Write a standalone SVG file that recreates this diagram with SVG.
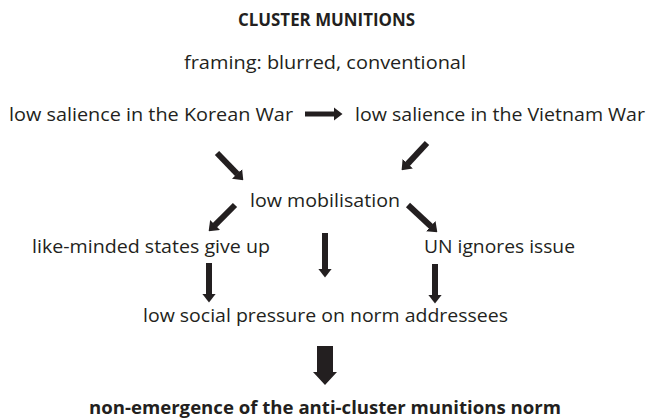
<svg xmlns="http://www.w3.org/2000/svg" width="651" height="420" viewBox="0 0 651 420">
<style>
text{font-family:"Open Sans","Noto Sans","Liberation Sans",sans-serif;font-size:18.5px;fill:#231f20}
.b{font-weight:bold;font-size:17px}
.arr{stroke:#231f20;stroke-width:6;fill:none;marker-end:url(#head)}
.thin{stroke-width:5}
.big{fill:#231f20}
</style>
<defs>
<marker id="head" markerUnits="userSpaceOnUse" markerWidth="9" markerHeight="14" refX="0.5" refY="7" orient="auto">
<path d="M0,0 L9,7 L0,14 z" fill="#231f20"/>
</marker>
</defs>
<rect width="651" height="420" fill="#ffffff"/>
<g id="title"><text class="b" x="238" y="26" textLength="177" lengthAdjust="spacingAndGlyphs">CLUSTER MUNITIONS</text></g>
<g id="framing"><text x="184" y="69" textLength="282" lengthAdjust="spacingAndGlyphs">framing: blurred, conventional</text></g>
<g id="korean"><text x="9" y="121" textLength="284" lengthAdjust="spacingAndGlyphs">low salience in the Korean War</text></g>
<g id="vietnam"><text x="355" y="121" textLength="290" lengthAdjust="spacingAndGlyphs">low salience in the Vietnam War</text></g>
<g id="mobilisation"><text x="250" y="207" textLength="150" lengthAdjust="spacingAndGlyphs">low mobilisation</text></g>
<g id="likeminded"><text x="32" y="253" textLength="238" lengthAdjust="spacingAndGlyphs">like-minded states give up</text></g>
<g id="un"><text x="424" y="253" textLength="151" lengthAdjust="spacingAndGlyphs">UN ignores issue</text></g>
<g id="pressure"><text x="143" y="322" textLength="365" lengthAdjust="spacingAndGlyphs">low social pressure on norm addressees</text></g>
<g id="outcome"><text class="b" x="89" y="414" textLength="472" lengthAdjust="spacingAndGlyphs">non-emergence of the anti-cluster munitions norm</text></g>
<g id="connectors">
<line class="arr thin" x1="305" y1="114" x2="334" y2="114"/>
<line class="arr" x1="217" y1="153" x2="237.4" y2="174.2"/>
<line class="arr" x1="427" y1="143" x2="407.4" y2="164.1"/>
<line class="arr" x1="235" y1="205" x2="214.7" y2="225.3"/>
<line class="arr" x1="408" y1="205" x2="431.1" y2="226.5"/>
<line class="arr" x1="325" y1="233" x2="325" y2="269"/>
<line class="arr" x1="209" y1="263" x2="209" y2="294"/>
<line class="arr" x1="435" y1="264" x2="435" y2="295"/>
<polygon class="big" points="317,346 333,346 333,372 337,372 325,385 313,372 317,372"/>
</g>
</svg>
